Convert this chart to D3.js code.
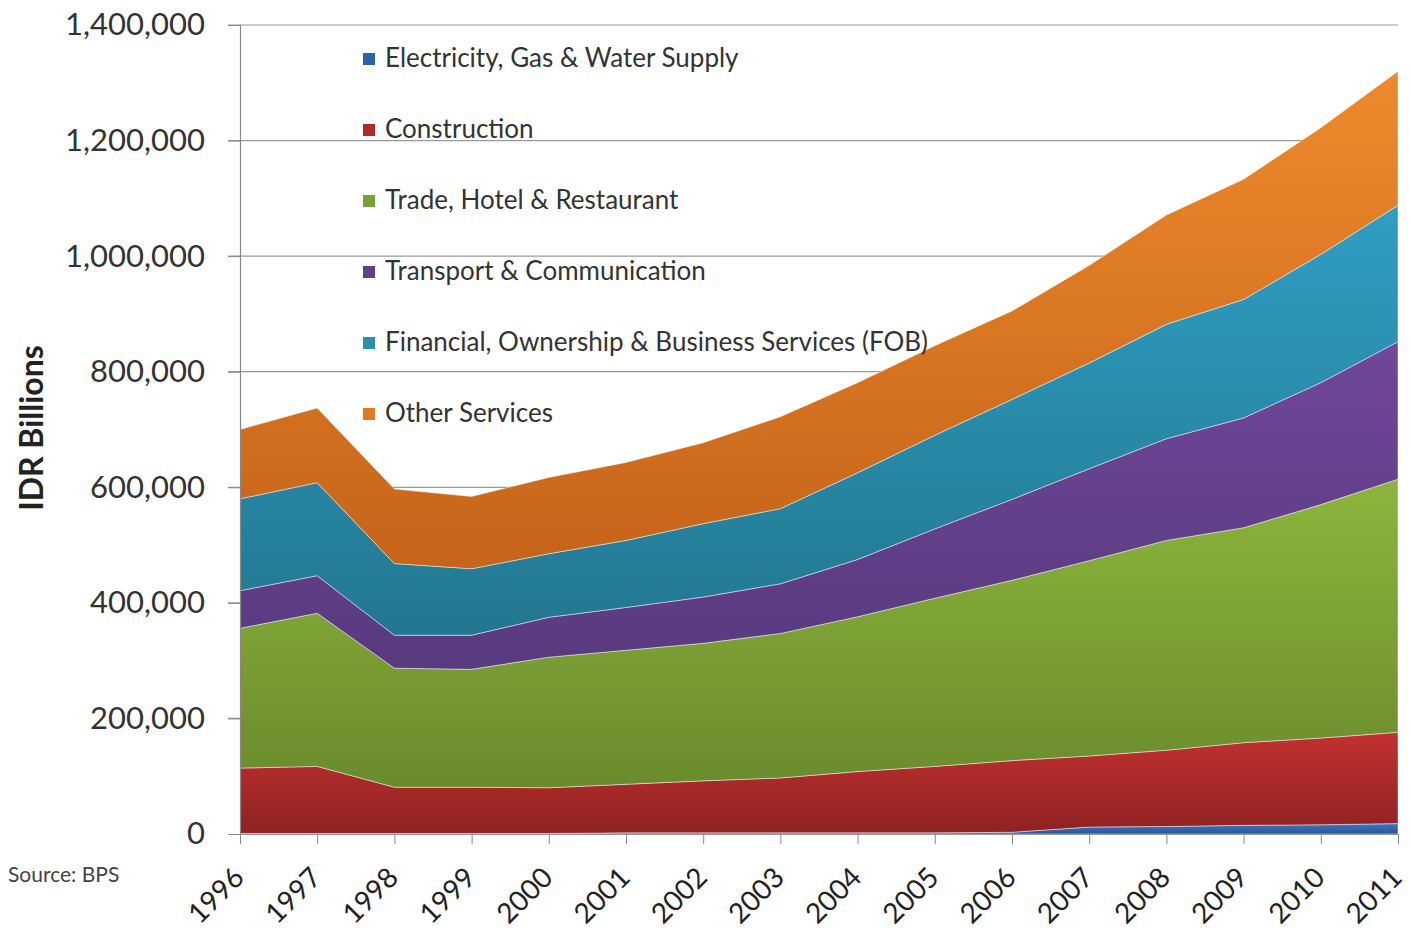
<!DOCTYPE html>
<html>
<head>
<meta charset="utf-8">
<script src="https://cdn.jsdelivr.net/npm/d3@7"></script>
<style>
  body { margin: 0; background: #fff; }
  svg { display: block; font-family: Lato, "Open Sans", sans-serif; }
</style>
</head>
<body>
<div id="chart"></div>
<script>
// Data (IDR billions)
const years = [1996, 1997, 1998, 1999, 2000, 2001, 2002, 2003, 2004, 2005, 2006, 2007, 2008, 2009, 2010, 2011];
const electricity = [1000, 1000, 1000, 1000, 1000, 2000, 2000, 2000, 2000, 2000, 3000, 12000, 13000, 15000, 16000, 18000];
const construction = [113000, 116000, 80000, 80000, 79000, 84000, 90000, 95000, 106000, 115000, 124000, 123000, 132000, 143000, 150000, 158000];
const trade = [242000, 265000, 206000, 204000, 226000, 232000, 238000, 250000, 268000, 291000, 312000, 338000, 363000, 372000, 404000, 438000];
const transport = [65000, 65000, 57000, 59000, 69000, 74000, 80000, 86000, 99000, 120000, 140000, 159000, 176000, 190000, 211000, 238000];
const fob = [159000, 161000, 124000, 115000, 110000, 116000, 127000, 130000, 150000, 162000, 173000, 183000, 198000, 205000, 222000, 236000];
const other = [120000, 129000, 129000, 125000, 132000, 135000, 140000, 159000, 156000, 155000, 153000, 169000, 189000, 208000, 219000, 232000];

const seriesNames = [
  "Electricity, Gas & Water Supply",
  "Construction",
  "Trade, Hotel & Restaurant",
  "Transport & Communication",
  "Financial, Ownership & Business Services (FOB)",
  "Other Services"
];
const yTicks = [0, 200000, 400000, 600000, 800000, 1000000, 1200000, 1400000];

const seriesValues = [electricity, construction, trade, transport, fob, other];
const keys = ["elec", "cons", "trade", "trans", "fob", "other"];
// [top colour, bottom colour] for the gradient fills
const fills = [
  ["#3f74c0", "#28569a"],
  ["#c2312f", "#8e2222"],
  ["#8db53c", "#6a8b2d"],
  ["#70479a", "#583a7e"],
  ["#2f9fc4", "#23778f"],
  ["#ee8a2c", "#c5641a"]
];
const legendColors = ["#2f60aa", "#b02a2a", "#77a036", "#5f3e8c", "#2a90b2", "#e07a22"];

const data = years.map((yr, i) => {
  const row = {year: yr};
  keys.forEach((k, j) => row[k] = seriesValues[j][i]);
  return row;
});

const W = 1411, H = 935;
const margin = {top: 25, right: 13, bottom: 101, left: 240};
const width = W - margin.left - margin.right;
const height = H - margin.top - margin.bottom;

const svg = d3.select("#chart").append("svg")
    .attr("width", W)
    .attr("height", H);

const defs = svg.append("defs");
fills.forEach((c, i) => {
  const g = defs.append("linearGradient")
      .attr("id", "grad" + i)
      .attr("x1", 0).attr("y1", 0).attr("x2", 0).attr("y2", 1);
  g.append("stop").attr("offset", "0%").attr("stop-color", c[0]);
  g.append("stop").attr("offset", "100%").attr("stop-color", c[1]);
});

const g = svg.append("g")
    .attr("transform", `translate(${margin.left},${margin.top})`);

const x = d3.scalePoint()
    .domain(years)
    .range([0, width]);

const y = d3.scaleLinear()
    .domain([0, 1400000])
    .range([height, 0]);

// gridlines
g.append("g")
  .selectAll("line")
  .data(yTicks.filter(d => d > 0))
  .enter().append("line")
    .attr("x1", -12).attr("x2", width)
    .attr("y1", d => y(d)).attr("y2", d => y(d))
    .attr("stroke", "#9a9a9a")
    .attr("stroke-width", 1.2);

// stacked areas
const stack = d3.stack().keys(keys);
const layers = stack(data);

const area = d3.area()
    .x(d => x(d.data.year))
    .y0(d => y(d[0]))
    .y1(d => y(d[1]));

g.selectAll(".layer")
  .data(layers)
  .enter().append("path")
    .attr("class", "layer")
    .attr("d", area)
    .attr("fill", (d, i) => `url(#grad${i})`)
    .attr("stroke", "#ffffff")
    .attr("stroke-opacity", 0.45)
    .attr("stroke-width", 1);

// y axis
const yAxis = g.append("g")
    .call(d3.axisLeft(y).tickValues(yTicks).tickSize(12).tickFormat(d3.format(",")));
yAxis.select(".domain").attr("stroke", "#888").attr("stroke-width", 1.2);
yAxis.selectAll(".tick line").attr("stroke", "#888");
yAxis.selectAll("text")
    .attr("x", -35)
    .attr("font-size", 31)
    .attr("font-family", "Lato, sans-serif")
    .attr("fill", "#333");

// x axis
const xAxis = g.append("g")
    .attr("transform", `translate(0,${height})`)
    .call(d3.axisBottom(x).tickSize(10).tickSizeOuter(0));
xAxis.select(".domain").attr("stroke", "#999").attr("stroke-width", 1.2);
xAxis.selectAll(".tick line").attr("stroke", "#888");
xAxis.selectAll("text")
    .attr("font-size", 28)
    .attr("font-family", "Lato, sans-serif")
    .attr("fill", "#222")
    .attr("text-anchor", "end")
    .attr("dy", 0)
    .attr("transform", "translate(-4,36) rotate(-45)");

// y-axis label
svg.append("text")
    .attr("transform", "rotate(-90)")
    .attr("x", -428)
    .attr("y", 43)
    .attr("text-anchor", "middle")
    .attr("font-size", 32)
    .attr("font-weight", "bold")
    .attr("fill", "#222")
    .text("IDR Billions");

// source note
svg.append("text")
    .attr("x", 8)
    .attr("y", 882)
    .attr("font-size", 21)
    .attr("fill", "#444")
    .text("Source: BPS");

// legend
const legend = svg.append("g")
    .attr("transform", "translate(363,59)");

seriesNames.forEach((name, i) => {
  legend.append("rect")
      .attr("x", 0)
      .attr("y", i * 71 - 6)
      .attr("width", 12)
      .attr("height", 12)
      .attr("fill", legendColors[i]);
  legend.append("text")
      .attr("x", 22)
      .attr("y", i * 71 + 8)
      .attr("font-size", 26)
      .attr("fill", "#333")
      .text(name);
});
</script>
</body>
</html>
